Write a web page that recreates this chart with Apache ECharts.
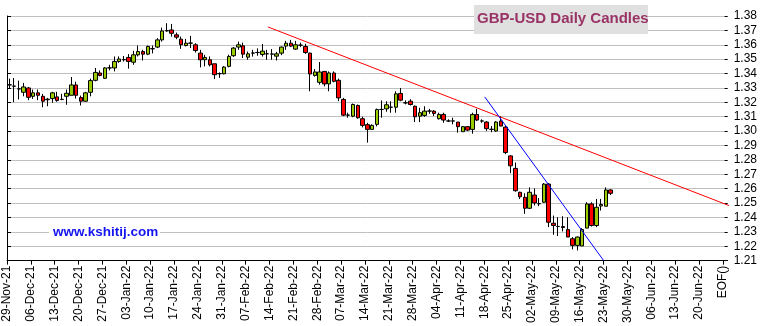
<!DOCTYPE html>
<html><head><meta charset="utf-8">
<script src="https://cdn.jsdelivr.net/npm/echarts@6/dist/echarts.min.js"></script>
<style>html,body{margin:0;padding:0;background:#fff}#c{width:760px;height:326px}</style>
</head><body><div id="c"></div>
<script>
const tickLabels = ['29-Nov-21','06-Dec-21','13-Dec-21','20-Dec-21','27-Dec-21','03-Jan-22','10-Jan-22','17-Jan-22','24-Jan-22','31-Jan-22','07-Feb-22','14-Feb-22','21-Feb-22','28-Feb-22','07-Mar-22','14-Mar-22','21-Mar-22','28-Mar-22','04-Apr-22','11-Apr-22','18-Apr-22','25-Apr-22','02-May-22','09-May-22','16-May-22','23-May-22','30-May-22','06-Jun-22','13-Jun-22','20-Jun-22','EOF()'];
const yTicks = [1.21,1.22,1.23,1.24,1.25,1.26,1.27,1.28,1.29,1.30,1.31,1.32,1.33,1.34,1.35,1.36,1.37,1.38];

const opens = [1.3321,1.3312,1.3293,1.3270,1.3300,1.3242,1.3266,1.3242,1.3218,1.3226,1.3238,1.3220,1.3242,1.3249,1.3321,1.3233,1.3208,1.3270,1.3353,1.3404,
1.3367,1.3439,1.3439,1.3484,1.3496,1.3512,1.3479,1.3530,1.3553,1.3535,1.3572,1.3584,1.3634,1.3696,1.3703,1.3669,1.3639,1.3595,1.3611,1.3600,
1.3542,1.3496,1.3496,1.3468,1.3399,1.3399,1.3450,1.3524,1.3584,1.3593,1.3514,1.3542,1.3546,1.3533,1.3537,1.3535,1.3521,1.3542,1.3591,1.3611,
1.3570,1.3597,1.3588,1.3542,1.3387,1.3339,1.3415,1.3328,1.3404,1.3353,1.3220,1.3111,1.3104,1.3178,1.3086,1.3045,1.3012,1.3047,1.3150,1.3155,
1.3166,1.3166,1.3262,1.3196,1.3208,1.3173,1.3104,1.3109,1.3139,1.3139,1.3086,1.3116,1.3070,1.3070,1.3063,1.2996,1.3031,1.3012,1.3116,1.3070,
1.3063,1.3012,1.3001,1.3070,1.3028,1.2828,1.2741,1.2575,1.2540,1.2464,1.2556,1.2495,1.2506,1.2632,1.2360,1.2337,1.2337,1.2316,1.2252,1.2206,
1.2202,1.2326,1.2494,1.2344,1.2480,1.2478,1.2591];
const closes = [1.3322,1.3313,1.3294,1.3307,1.3235,1.3266,1.3249,1.3208,1.3222,1.3266,1.3213,1.3221,1.3263,1.3321,1.3249,1.3208,1.3266,1.3351,1.3408,1.3387,
1.3439,1.3440,1.3484,1.3501,1.3497,1.3484,1.3530,1.3553,1.3535,1.3588,1.3573,1.3634,1.3696,1.3699,1.3680,1.3653,1.3600,1.3611,1.3612,1.3560,
1.3496,1.3512,1.3461,1.3392,1.3400,1.3445,1.3519,1.3577,1.3600,1.3535,1.3537,1.3543,1.3547,1.3556,1.3538,1.3536,1.3537,1.3584,1.3611,1.3591,
1.3600,1.3598,1.3546,1.3397,1.3411,1.3411,1.3328,1.3404,1.3346,1.3231,1.3111,1.3112,1.3185,1.3093,1.3040,1.3012,1.3040,1.3150,1.3151,1.3183,
1.3167,1.3259,1.3215,1.3197,1.3185,1.3100,1.3128,1.3139,1.3140,1.3123,1.3116,1.3077,1.3071,1.3071,1.3031,1.3031,1.3007,1.3116,1.3077,1.3071,
1.3017,1.3013,1.3063,1.3035,1.2851,1.2759,1.2586,1.2544,1.2464,1.2575,1.2501,1.2496,1.2632,1.2367,1.2344,1.2338,1.2330,1.2264,1.2206,1.2264,
1.2316,1.2494,1.2344,1.2471,1.2490,1.2591,1.2568];
const lows = [1.3296,1.3201,1.3220,1.3242,1.3215,1.3224,1.3215,1.3166,1.3173,1.3197,1.3204,1.3215,1.3183,1.3249,1.3226,1.3178,1.3204,1.3242,1.3346,1.3381,
1.3364,1.3422,1.3415,1.3475,1.3484,1.3434,1.3461,1.3519,1.3491,1.3528,1.3540,1.3577,1.3622,1.3691,1.3657,1.3639,1.3572,1.3588,1.3577,1.3546,
1.3443,1.3450,1.3450,1.3362,1.3370,1.3394,1.3443,1.3516,1.3565,1.3508,1.3496,1.3518,1.3524,1.3518,1.3496,1.3496,1.3491,1.3528,1.3565,1.3584,
1.3565,1.3584,1.3537,1.3277,1.3379,1.3323,1.3311,1.3277,1.3339,1.3208,1.3104,1.3093,1.3097,1.3086,1.3026,1.2920,1.3012,1.3033,1.3093,1.3135,
1.3128,1.3128,1.3208,1.3186,1.3178,1.3063,1.3063,1.3100,1.3120,1.3105,1.3081,1.3058,1.3063,1.3047,1.2989,1.2996,1.3000,1.2982,1.3070,1.3058,
1.3001,1.2993,1.2996,1.3035,1.2840,1.2708,1.2579,1.2528,1.2425,1.2459,1.2484,1.2478,1.2502,1.2333,1.2280,1.2271,1.2303,1.2264,1.2178,1.2171,
1.2202,1.2326,1.2337,1.2333,1.2448,1.2478,1.2556];
const highs = [1.3365,1.3369,1.3351,1.3335,1.3307,1.3289,1.3289,1.3259,1.3231,1.3273,1.3273,1.3259,1.3289,1.3376,1.3344,1.3247,1.3273,1.3365,1.3439,1.3422,
1.3444,1.3461,1.3519,1.3519,1.3522,1.3535,1.3558,1.3595,1.3565,1.3595,1.3595,1.3646,1.3719,1.3750,1.3745,1.3685,1.3657,1.3641,1.3662,1.3611,
1.3565,1.3530,1.3519,1.3468,1.3408,1.3452,1.3531,1.3584,1.3622,1.3615,1.3553,1.3565,1.3575,1.3605,1.3565,1.3570,1.3551,1.3588,1.3627,1.3634,
1.3627,1.3615,1.3607,1.3546,1.3431,1.3480,1.3415,1.3415,1.3415,1.3365,1.3231,1.3128,1.3192,1.3185,1.3100,1.3058,1.3047,1.3157,1.3213,1.3207,
1.3207,1.3277,1.3300,1.3214,1.3222,1.3178,1.3162,1.3173,1.3155,1.3146,1.3128,1.3128,1.3082,1.3093,1.3063,1.3035,1.3035,1.3128,1.3155,1.3082,
1.3070,1.3035,1.3070,1.3104,1.3035,1.2832,1.2782,1.2579,1.2568,1.2609,1.2602,1.2535,1.2639,1.2639,1.2413,1.2402,1.2409,1.2402,1.2264,1.2268,
1.2326,1.2506,1.2506,1.2529,1.2529,1.2609,1.2596];

// trend lines, in trading-day slots along the axis
const redTrend = [[54.66,1.3724],[152.04,1.2473]];
const blueTrend = [[100.1,1.3238],[125.03,1.21]];

const SLOTS = 151;
const categories = [];
for (let i = 0; i < SLOTS; i++) categories.push(String(i));
const candles = opens.map((o, i) => [o, closes[i], lows[i], highs[i]]);

const chart = echarts.init(document.getElementById('c'), null, {renderer: 'canvas'});
chart.setOption({
  animation: false,
  backgroundColor: '#ffffff',
  grid: {left: 7, right: 32, top: 16, bottom: 64, containLabel: false},
  xAxis: [
    {type: 'category', data: categories, boundaryGap: true,
     axisLine: {show: false}, axisTick: {show: false}, axisLabel: {show: false}, splitLine: {show: false}},
    {type: 'value', min: 0, max: SLOTS, interval: 5, position: 'bottom',
     axisLine: {show: true, onZero: false, lineStyle: {color: '#000', width: 1}},
     axisTick: {show: true, length: 4, lineStyle: {color: '#000'}},
     splitLine: {show: false},
     axisLabel: {show: true, rotate: 90, margin: 5, color: '#000', fontFamily: 'Arial, Liberation Sans', fontSize: 12,
       showMaxLabel: false,
       formatter: v => (Math.abs(v % 5) < 1e-6 ? (tickLabels[Math.round(v / 5)] || '') : '')}}
  ],
  yAxis: [
    {type: 'value', position: 'right', min: 1.21, max: 1.38, interval: 0.01,
     axisLine: {show: true, lineStyle: {color: '#000', width: 1}},
     axisTick: {show: true, length: 4, lineStyle: {color: '#000'}},
     splitLine: {show: true, lineStyle: {color: '#c0c0c0', width: 1}},
     axisLabel: {color: '#000', fontFamily: 'Arial, Liberation Sans', fontSize: 12, margin: 6,
       formatter: v => v.toFixed(2)}},
    {type: 'value', position: 'right', min: 1.21, max: 1.38, interval: 0.01,
     axisLine: {show: false}, splitLine: {show: false}, axisLabel: {show: false},
     axisTick: {show: true, inside: true, length: 3, lineStyle: {color: '#000'}}}
  ],
  series: [
    {type: 'candlestick', xAxisIndex: 0, yAxisIndex: 0, data: candles, barWidth: 4,
     itemStyle: {color: '#99cc00', color0: '#ff0000', borderColor: '#000000', borderColor0: '#000000', borderWidth: 1}},
    {type: 'line', xAxisIndex: 1, yAxisIndex: 0, data: redTrend, symbol: 'none', clip: false, silent: true,
     lineStyle: {color: '#ff0000', width: 1}},
    {type: 'line', xAxisIndex: 1, yAxisIndex: 0, data: blueTrend, symbol: 'none', clip: false, silent: true,
     lineStyle: {color: '#0000ff', width: 1}}
  ],
  graphic: [
    {type: 'rect', left: 474, top: 5, shape: {width: 174, height: 29}, style: {fill: '#e0e0e0'}, z: 10},
    {type: 'text', left: 477, top: 11, z: 11,
     style: {text: 'GBP-USD Daily Candles', fill: '#993366', font: 'bold 15px Arial, "Liberation Sans"'}},
    {type: 'rect', left: 49, top: 224, shape: {width: 111, height: 16}, style: {fill: '#ffffff'}, z: 10},
    {type: 'text', left: 53, top: 225, z: 11,
     style: {text: 'www.kshitij.com', fill: '#1414f0', font: 'bold 13.5px Arial, "Liberation Sans"'}}
  ]
});
</script></body></html>
